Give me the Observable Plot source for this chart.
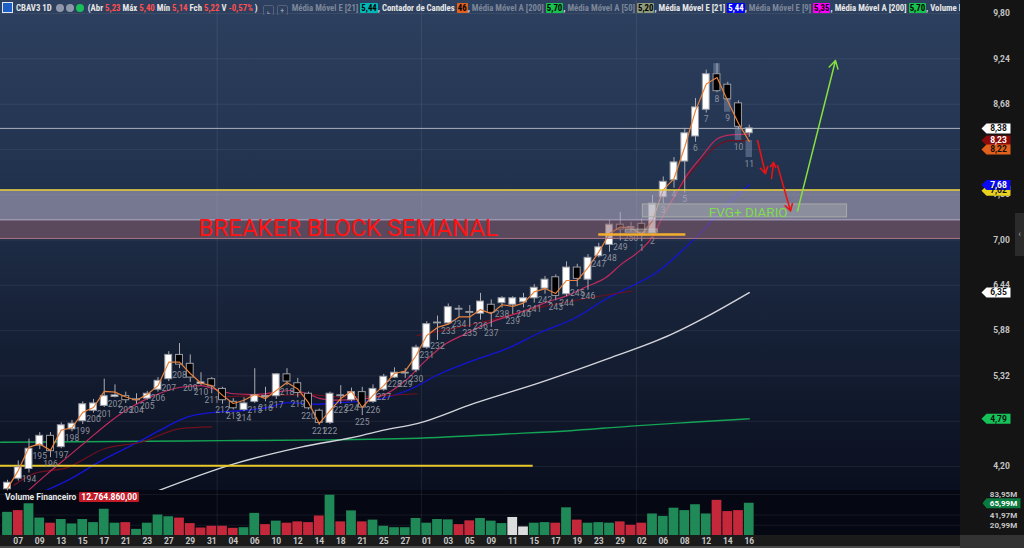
<!DOCTYPE html>
<html><head><meta charset="utf-8">
<script src="https://cdn.jsdelivr.net/npm/d3@7"></script>
<script src="https://cdn.jsdelivr.net/npm/@observablehq/plot@0.6"></script>
<style>
body{margin:0;background:#141414;}
#wrap{position:relative;width:1024px;height:548px;overflow:hidden;font-family:Roboto,"Noto Sans",sans-serif;}
.bg{position:absolute;}
#price,#vol{position:absolute;left:0;}
#price{top:0}#vol{top:490px}
#hdr{position:absolute;left:2px;top:2px;width:958px;height:13px;overflow:hidden;white-space:nowrap;font-family:"Liberation Sans Narrow","Roboto Condensed","DejaVu Sans Condensed",Roboto,sans-serif;font-size:9.5px;font-weight:bold;line-height:13px;color:#e6e6e6}
#hdr .g{color:#7c8699}
#hdr .r{color:#ff4f4f}
#hdr .box{display:inline-block;padding:0 1px;line-height:10px;border-radius:1px;color:#000}
#hdr .ico{display:inline-block;width:9px;height:9px;background:#1d5fc4;border:1px solid #dfe7f5;vertical-align:-2px;margin-right:3px}
#hdr .dot{display:inline-block;width:8px;height:8px;border-radius:50%;vertical-align:-1px;margin-left:2px}
#hdr .btn{display:inline-block;width:9px;height:9px;border:1px solid #56607a;border-radius:2px;vertical-align:-2px;margin-left:3px;color:#8a93a6;font-size:8px;line-height:9px;text-align:center}
#vlab{position:absolute;left:5px;top:492px;font-size:8.5px;font-weight:bold;color:#e8e8e8;white-space:nowrap;line-height:11px}
#vlab span{background:#c41a28;color:#fff;padding:0 2px;border-radius:1px;margin-left:3px}
#handle{position:absolute;left:1015px;top:213px;width:9px;height:43px;background:#2b2b2b;color:#aaa;font-size:9px;line-height:43px;text-align:center}
</style></head><body>
<div id="wrap">
 <div class="bg" style="left:0;top:0;width:960px;height:490px;background:linear-gradient(to bottom,#2d405f 0%,#22334f 35%,#172238 65%,#0a0f1f 100%)"></div>
 <div class="bg" style="left:0;top:490px;width:960px;height:45px;background:#050813"></div>
 <div class="bg" style="left:0;top:535px;width:1024px;height:11px;background:#1b1b1b"></div>
 <div class="bg" style="left:0;top:546px;width:1024px;height:2px;background:#4a4a4a"></div>
 <div class="bg" style="left:960px;top:0;width:64px;height:535px;background:#141414"></div>
 <div class="bg" style="left:960px;top:535px;width:64px;height:13px;background:#333"></div>
 <div id="price"></div>
 <div id="vol"></div>
 <div id="hdr"><span class="ico"></span>CBAV3 1D <span class="dot" style="background:#8f98aa"></span><span class="dot" style="background:#8f98aa"></span><span class="dot" style="background:#19c05a"></span>&nbsp; (Abr <span class="r">5,23</span> Máx <span class="r">5,40</span> Mín <span class="r">5,14</span> Fch <span class="r">5,22</span> V <span class="r">-0,57%</span> ) <span class="btn">⌞</span><span class="btn">+</span>&nbsp; <span class="g">Média Móvel E [21]</span> <span class="box" style="background:#00b8b8">5,44</span>, Contador de Candles <span class="box" style="background:#e0621c">46</span>, <span class="g">Média Móvel A [200]</span> <span class="box" style="background:#17c24e">5,70</span>, <span class="g">Média Móvel A [50]</span> <span class="box" style="background:#8d9a7c">5,20</span>, Média Móvel E [21] <span class="box" style="background:#0000ff;color:#fff">5,44</span>, <span class="g">Média Móvel E [9]</span> <span class="box" style="background:#ff00ff">5,35</span>, Média Móvel A [200] <span class="box" style="background:#17c24e">5,70</span>, <span id="vp">Volume Profile</span></div>
 <div id="vlab">Volume Financeiro<span>12.764.860,00</span></div>
 <div id="handle">‹</div>
</div>
<script>
// ---------------- DATA ----------------
const open  = [3.92,4.05,4.17,4.46,4.58,4.44,4.66,4.76,4.89,4.95,5.06,5.07,5.02,5.04,5.15,5.28,5.58,5.47,5.22,5.28,5.16,5.00,4.90,5.00,5.06,5.07,5.34,5.23,5.10,4.89,4.74,5.07,5.02,5.12,5.00,5.15,5.30,5.35,5.39,5.67,5.97,5.97,6.14,6.11,6.09,6.20,6.22,6.20,6.23,6.28,6.40,6.54,6.33,6.66,6.51,6.80,6.94,7.19,7.15,7.20,7.08,7.53,7.74,7.97,8.28,8.61,9.05,8.92,8.69,8.32];
const high  = [4.03,4.27,4.54,4.62,4.62,4.74,4.77,5.00,5.03,5.28,5.21,5.12,5.10,5.13,5.30,5.62,5.72,5.58,5.36,5.30,5.18,5.04,5.05,5.41,5.18,5.35,5.41,5.29,5.12,4.91,5.12,5.20,5.17,5.18,5.21,5.34,5.42,5.41,5.70,5.99,6.06,6.21,6.19,6.19,6.34,6.26,6.30,6.30,6.34,6.45,6.55,6.57,6.73,6.70,6.82,6.96,7.24,7.34,7.22,7.26,7.55,7.78,8.02,8.38,8.75,9.10,9.18,8.95,8.72,8.42];
const low   = [3.90,4.02,4.12,4.41,4.31,4.42,4.63,4.72,4.86,4.93,5.05,4.98,4.97,5.02,5.12,5.25,5.41,5.24,5.20,5.10,4.97,4.90,4.88,4.98,5.00,5.03,5.20,5.05,4.90,4.71,4.72,4.97,5.00,4.83,4.98,5.13,5.29,5.29,5.36,5.65,5.76,5.95,6.04,5.92,6.01,5.92,6.16,6.08,6.16,6.22,6.33,6.25,6.30,6.42,6.38,6.78,6.85,6.99,7.10,6.98,7.06,7.45,7.64,7.58,8.21,8.57,8.82,8.72,8.36,8.27];
const close = [4.00,4.19,4.42,4.58,4.39,4.71,4.73,4.97,4.98,5.07,5.08,5.02,5.03,5.10,5.26,5.58,5.46,5.30,5.24,5.19,5.02,4.92,4.98,5.08,5.07,5.34,5.25,5.11,4.92,4.74,5.10,5.08,5.12,4.93,5.16,5.31,5.36,5.36,5.67,5.96,5.98,6.17,6.15,6.10,6.24,6.10,6.28,6.28,6.28,6.41,6.51,6.31,6.66,6.52,6.78,6.91,7.19,7.13,7.16,7.08,7.45,7.72,7.96,8.32,8.64,9.05,8.84,8.74,8.40,8.38];
const counter = [192,193,194,195,196,197,198,199,200,201,202,203,204,205,206,207,208,209,210,211,212,213,214,215,216,217,218,219,220,221,222,223,224,225,226,227,228,229,230,231,232,233,234,235,236,237,238,239,240,241,242,243,244,245,246,247,248,249,250,1,2,3,4,5,6,7,8,9,10,11];
// faint "ghost" candle ranges shown on the last candles: [index, top, bottom]
const ghosts = [[66,9.18,9.06],[67,8.81,8.58],[68,8.39,8.23],[69,8.23,8.02]];
const volume = [47.4,51,65,35.7,25.2,32.7,23.7,32.7,26.4,53.7,25.2,26.4,12.6,25.2,42,38.4,35.7,24.4,15.3,18.9,18.9,14.7,16,45.3,22.3,29.4,25.2,27.9,26.4,39.9,82.5,27.9,50.4,27.9,31.5,18.9,16,16,34.9,25.2,32.7,32,22.3,30,34.9,29.4,24.4,36.9,17.5,25.2,26.4,25.2,56.7,31.5,25.2,26.4,25.2,27.9,21,25.2,44.1,39,55.9,51,63,44.1,72,49,51,65.99];
const volDir = ["up","down","up","up","down","up","up","up","up","up","up","down","up","up","up","up","down","down","down","down","down","down","up","up","down","up","down","down","down","down","up","down","up","down","up","up","up","up","up","up","up","up","down","down","up","up","up","flat","flat","up","up","down","up","down","up","up","up","down","down","down","up","up","up","up","up","up","down","down","down","up"];
const dateLabels = ["07","09","13","15","17","21","23","27","29","31","04","06","10","12","14","18","21","25","27","01","03","05","09","11","15","17","19","23","29","02","06","08","12","14","16"];
const monthBreaks = [19.5,38.5,58.5];
const priceTicks = [9.80,9.24,8.68,8.12,7.56,7.00,6.44,5.88,5.32,4.76,4.20];
const priceTickLabels = [9.80,9.24,8.68,7.56,7.00,6.44,5.88,5.32,4.20];
const volTicks = [83.95,41.97,20.99];
const lastPrice = 8.38;
// moving averages: [candle index, price]
const maOrange = [[0,3.93],[1,4.15],[2,4.44],[3,4.48],[4,4.40],[5,4.65],[6,4.68],[7,4.87],[8,4.93],[9,5.13],[10,5.12],[11,5.06],[12,5.02],[13,5.09],[14,5.20],[15,5.49],[16,5.49],[17,5.35],[18,5.23],[19,5.20],[20,5.08],[21,4.98],[22,5.02],[23,5.09],[24,5.04],[25,5.14],[26,5.24],[27,5.16],[28,4.99],[29,4.73],[30,4.89],[31,5.04],[32,5.13],[33,4.93],[34,5.08],[35,5.20],[36,5.35],[37,5.38],[38,5.57],[39,5.82],[40,5.92],[41,5.96],[42,6.05],[43,6.05],[44,6.14],[45,6.09],[46,6.20],[47,6.18],[48,6.22],[49,6.36],[50,6.40],[51,6.34],[52,6.50],[53,6.50],[54,6.66],[55,6.85],[56,7.08],[57,7.16],[58,7.15],[59,7.07],[60,7.24],[61,7.62],[62,7.76],[63,8.15],[64,8.60],[65,8.93],[66,9.01],[67,8.72],[68,8.44],[69,8.22]];
const maCrimson = [[1.9,3.90],[3.7,4.11],[5.6,4.32],[7.4,4.52],[9.3,4.73],[11.2,4.91],[13,5.04],[14.9,5.14],[16.1,5.18],[18,5.20],[19.2,5.16],[21,5.10],[23,5.09],[25,5.12],[26.3,5.14],[27.9,5.10],[29.1,5.04],[30.5,5.02],[32.5,5.03],[34.9,5.08],[37,5.26],[38.9,5.51],[40.8,5.72],[42.6,5.84],[44.5,5.96],[46.4,6.05],[48.2,6.13],[50.1,6.23],[52,6.31],[53.8,6.42],[55.7,6.54],[57,6.69],[59,6.89],[60,7.04],[61,7.30],[62.3,7.60],[63.3,7.82],[64.5,8.02],[66,8.25],[67.3,8.30],[69,8.31]];
const maMaroon = [
  [[0.6,3.97],[2.4,4.11],[5.6,4.19],[9,4.42],[12.4,4.50],[16.1,4.67],[19,4.69]],
  [[19.5,5.06],[24,5.08],[28,5.09],[31,5.06],[38.1,5.10]],
  [[38.1,5.82],[44,5.98],[49.6,6.17],[58.1,6.37]],
  [[59.5,6.95],[61.5,7.40],[62.6,7.65],[63.5,7.82],[64.5,7.98],[66,8.17],[67.3,8.23],[69,8.23]]
];
const maBlue = [[3.5,3.90],[5.6,4.03],[8.7,4.27],[12.4,4.52],[14.2,4.65],[16.7,4.81],[19.2,4.87],[21.7,4.89],[24.2,4.93],[26,4.99],[28.5,4.97],[31,4.99],[34,5.02],[37.2,5.14],[40.3,5.35],[43.3,5.51],[46.5,5.66],[49.6,5.86],[52.7,6.03],[55.8,6.28],[57.3,6.38],[60.6,6.62],[63,6.90],[64.7,7.12],[67,7.45],[69,7.68]];
const maGrey = [[13.6,3.88],[21,4.23],[27.3,4.44],[32.8,4.58],[35,4.65],[38.1,4.73],[43.4,4.98],[49.6,5.24],[55.8,5.53],[61.7,5.83],[65,6.05],[69,6.35]];
const maGreen = [[-0.65,4.50],[10,4.51],[20,4.52],[30,4.53],[40,4.56],[46,4.60],[52,4.64],[58,4.70],[64,4.75],[69,4.79]];
// drawn annotations (candle index / price)
const zoneUpper = [7.25, 7.62];
const zoneLower = [7.02, 7.25];
const fvgBox = {x1: 59.1, x2: 78.1, y1: 7.28, y2: 7.44};
const fvgText = {x: 68.9, y: 7.34, t: "FVG+ DIARIO"};
const zoneText = {x: 17.77, y: 7.056, t: "BREAKER BLOCK SEMANAL"};
const smallBox = {x1: 57.5, x2: 60.5, y1: 7.09, y2: 7.13};
const orangeLevel = {x1: 55.0, x2: 63.1, y: 7.07};
const yellowLow = {x1: -0.65, x2: 48.9, y: 4.21};
const redArrows = [[69.77,8.23,70.51,7.82],[71.07,7.76,71.26,7.96],[71.63,7.92,72.84,7.36]];
const greenArrows = [[73.49,7.36,77.02,9.22]];
const priceBadges = [
  {v:8.38, t:"8,38", bg:"#ffffff", fg:"#111"},
  {v:8.23, t:"8,23", bg:"#8c0a0a", fg:"#fff"},
  {v:8.12, t:"8,22", bg:"#e2601c", fg:"#111"},
  {v:7.61, t:"7,62", bg:"#e8d21e", fg:"#111"},
  {v:7.68, t:"7,68", bg:"#0a0af0", fg:"#fff"},
  {v:6.35, t:"6,35", bg:"#ffffff", fg:"#111"},
  {v:4.79, t:"4,79", bg:"#14c257", fg:"#111"}
];
const volBadges = [{v:65.99, t:"65,99M", bg:"#0b7a3e", fg:"#fff"}];

// ---------------- BUILD ----------------
const N = close.length;
const ghostLow = new Map(ghosts.map(g => [g[0], g[2]]));
const candles = d3.range(N).map(i => ({i, o:open[i], h:high[i], l:low[i], c:close[i], n:counter[i], lab: Math.min(low[i], ghostLow.get(i) ?? Infinity)}));
const xDomain = [-0.651, 88.65];
const comma = d => d3.format(".2f")(d).replace(".", ",");
const badgeSymbol = {draw(ctx){ctx.moveTo(-16,0);ctx.lineTo(-11,-5);ctx.lineTo(13,-5);ctx.lineTo(13,5);ctx.lineTo(-11,5);ctx.closePath();}};
const lineOf = (pts, stroke, w, curve="monotone-x") => Plot.line(pts, {x: d=>d[0], y: d=>d[1], stroke, strokeWidth: w, curve, clip:true});

const price = Plot.plot({
  width:1024, height:490, marginLeft:0, marginRight:64, marginTop:0, marginBottom:0,
  style:{background:"transparent", overflow:"visible", fontFamily:"Roboto, 'Noto Sans', sans-serif"},
  x:{type:"linear", domain:xDomain, axis:null},
  y:{type:"linear", domain:[3.904, 9.961], axis:null},
  marks:[
    Plot.ruleY(priceTicks, {stroke:"#ffffff", strokeOpacity:0.07}),
    Plot.ruleX(monthBreaks, {stroke:"#ffffff", strokeOpacity:0.08}),
    Plot.ruleY([lastPrice], {stroke:"#aab0bd", strokeWidth:1}),
    lineOf(maGreen, "#14a455", 1.4),
    lineOf(maGrey, "#d4d6dc", 1.4),
    lineOf(maBlue, "#1414d8", 1.3),
    ...maMaroon.map(s => lineOf(s, "#72101e", 1.2)),
    lineOf(maCrimson, "#c22a5c", 1.2),
    Plot.ruleY([yellowLow], {y:"y", x1:"x1", x2:"x2", stroke:"#e8c82a", strokeWidth:2}),
    Plot.rect(ghosts, {x1:d=>d[0]-0.3, x2:d=>d[0]+0.3, y1:d=>d[1], y2:d=>d[2], fill:"#8796b8", fillOpacity:0.45}),
    Plot.ruleX(candles, {x:"i", y1:"l", y2:"h", stroke:"#a9abb2", strokeWidth:1}),
    Plot.rect(candles, {x1: d=>d.i-0.32, x2: d=>d.i+0.32, y1:"o", y2:"c", fill: d=>d.c>=d.o?"#ffffff":"#000000", stroke:"#9a9ca4", strokeWidth:1}),
    lineOf(maOrange, "#e8823c", 1.2, "linear"),
    Plot.text(candles.slice(2), {x:"i", y:"lab", text: d=>String(d.n), lineAnchor:"top", dy:3, fill:"#8c919c", fontSize:8.5, clip:true}),
    Plot.rectY([0], {x1:xDomain[0], x2:xDomain[1], y1:zoneUpper[0], y2:zoneUpper[1], fill:"#b0a8c2", fillOpacity:0.6}),
    Plot.rectY([0], {x1:xDomain[0], x2:xDomain[1], y1:zoneLower[0], y2:zoneLower[1], fill:"#8c6070", fillOpacity:0.55}),
    Plot.ruleY([zoneUpper[0]], {stroke:"#bdb6d6", strokeWidth:1}),
    Plot.ruleY([zoneLower[0]], {stroke:"#b07888", strokeWidth:1}),
    Plot.ruleY([zoneUpper[1]], {stroke:"#e6cf34", strokeWidth:1.5}),
    Plot.rect([smallBox], {x1:"x1", x2:"x2", y1:"y1", y2:"y2", fill:"#c8ccc8", fillOpacity:0.35, stroke:"#c8ccc8", strokeOpacity:0.5}),
    Plot.ruleY([orangeLevel], {y:"y", x1:"x1", x2:"x2", stroke:"#f2ae2e", strokeWidth:2.5}),
    Plot.rect([fvgBox], {x1:"x1", x2:"x2", y1:"y1", y2:"y2", fill:"#b4bab4", fillOpacity:0.35, stroke:"#a8aca8", strokeWidth:1}),
    Plot.text([fvgText], {x:"x", y:"y", text:"t", fill:"#7edc4e", fontSize:13.5}),
    Plot.text([zoneText], {x:"x", y:"y", text:"t", textAnchor:"start", lineAnchor:"bottom", fill:"#ff1414", fontSize:24}),
    Plot.arrow(redArrows, {x1:d=>d[0], y1:d=>d[1], x2:d=>d[2], y2:d=>d[3], stroke:"#e81414", strokeWidth:1.6, headLength:7}),
    Plot.arrow(greenArrows, {x1:d=>d[0], y1:d=>d[1], x2:d=>d[2], y2:d=>d[3], stroke:"#86e040", strokeWidth:1.5, headLength:9}),
    Plot.text(priceTickLabels, {y:d=>d, text:comma, frameAnchor:"right", textAnchor:"middle", dx:41, fill:"#c4c4c4", fontSize:8.5, fontWeight:"bold"}),
    Plot.dot(priceBadges, {y:"v", frameAnchor:"right", dx:37, r:5, symbol:badgeSymbol, fill:"bg", stroke:null}),
    Plot.text(priceBadges, {y:"v", text:"t", frameAnchor:"right", textAnchor:"middle", dx:38, fill:"fg", fontSize:8.5, fontWeight:"bold"})
  ]
});
document.getElementById("price").appendChild(price);

const vols = d3.range(N).map(i => ({i, v:volume[i], dir:volDir[i]}));
const volColor = {up:"#1f8a57", down:"#c4283a", flat:"#dcdcdc"};
const tickIdx = dateLabels.map((_, k) => 2*k + 1);
const volPlot = Plot.plot({
  width:1024, height:58, marginLeft:0, marginRight:64, marginTop:0, marginBottom:13,
  style:{background:"transparent", overflow:"visible", fontFamily:"Roboto, 'Noto Sans', sans-serif"},
  x:{type:"linear", domain:xDomain},
  y:{type:"linear", domain:[0, 92.14], axis:null},
  marks:[
    Plot.ruleY(volTicks, {stroke:"#ffffff", strokeOpacity:0.07}),
    Plot.ruleX(monthBreaks, {stroke:"#ffffff", strokeOpacity:0.08}),
    Plot.rect(vols, {x1:d=>d.i-0.5, x2:d=>d.i+0.5, y1:0, y2:"v", fill:d=>volColor[d.dir], insetLeft:0.5, insetRight:0.5}),
    Plot.axisX({ticks:tickIdx, tickFormat:d=>dateLabels[(d-1)/2], tickSize:0, tickPadding:2, fill:"#c6c6c6", fontSize:8.5, fontWeight:"bold", label:null}),
    Plot.text(volTicks, {y:d=>d, text:d=>comma(d)+"M", frameAnchor:"right", textAnchor:"middle", dx:43, fill:"#c4c4c4", fontSize:8, fontWeight:"bold"}),
    Plot.dot(volBadges, {y:"v", frameAnchor:"right", dx:41, r:5, symbol:{draw(ctx){ctx.moveTo(-19,0);ctx.lineTo(-15,-5);ctx.lineTo(19,-5);ctx.lineTo(19,5);ctx.lineTo(-15,5);ctx.closePath();}}, fill:"bg"}),
    Plot.text(volBadges, {y:"v", text:"t", frameAnchor:"right", textAnchor:"middle", dx:43, fill:"fg", fontSize:8, fontWeight:"bold"})
  ]
});
document.getElementById("vol").appendChild(volPlot);

// fit the header so that its last item starts where the reference shows it
const hdr = document.getElementById("hdr"), vp = document.getElementById("vp");
let fs = 9.5;
for (let k = 0; k < 3; k++) {
  const left = vp.offsetLeft;
  if (!left) break;
  fs = Math.min(10.5, fs * 928 / left);
  hdr.style.fontSize = fs.toFixed(2) + "px";
}
</script>
</body></html>
